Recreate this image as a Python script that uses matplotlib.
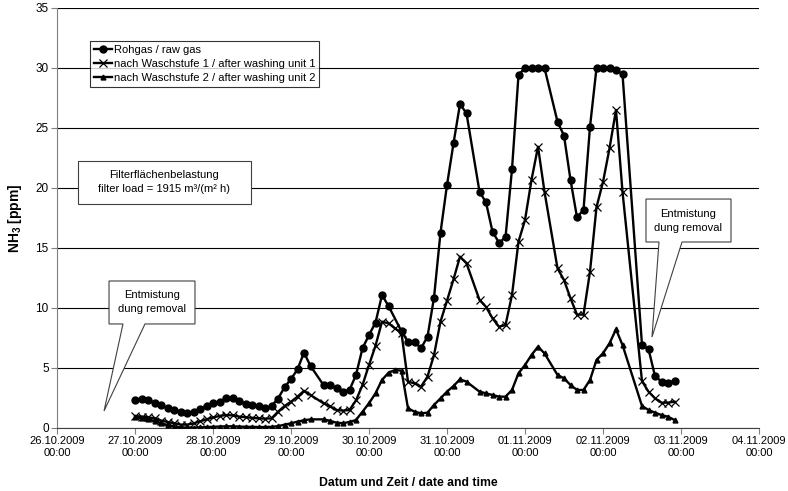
import matplotlib
matplotlib.use('Agg')
import matplotlib.pyplot as plt
import matplotlib.dates as mdates
from matplotlib.patches import Polygon
import pandas as pd
from datetime import datetime, timedelta

plt.rcParams['font.family'] = ['Liberation Sans', 'DejaVu Sans']
plt.rcParams['mathtext.default'] = 'regular'

# ============================================================
# Daten: Messwerte alle 2 h ab 27.10.2009 00:00 (None = kein Wert)
# ============================================================

times = pd.date_range('2009-10-27 00:00', periods=84, freq='2h')

rohgas = [2.33, 2.39, 2.33, 2.12, 1.88, 1.66, 1.5, 1.3, 1.26, 1.36, 1.6, 1.87,
          2.06, 2.2, 2.47, 2.47, 2.28, 2.03, 1.92, 1.83, 1.64, 1.83, 2.45, 3.39,
          4.08, 4.89, 6.28, 5.17, None, 3.58, 3.58, 3.31, 3.03, 3.17, 4.42, 6.64,
          7.75, 8.78, 11.08, 10.17, None, 8.05, 7.19, 7.19, 6.64, 7.61, 10.86, 16.28,
          20.25, 23.72, 27.0, 26.22, None, 19.69, 18.8, 16.36, 15.44, 15.89, 21.56, 29.42,
          30.0, 30.0, 30.0, 30.0, None, 25.53, 24.36, 20.67, 17.56, 18.17, 25.1, 30.0,
          30.0, 30.0, 29.8, 29.5, None, None, 6.92, 6.58, 4.33, 3.86, 3.78, 3.92]

wasch1 = [1.0, 0.95, 0.9, 0.8, 0.62, 0.5, 0.4, 0.28, 0.28, 0.38, 0.55, 0.72,
          0.88, 1.0, 1.08, 1.05, 0.95, 0.9, 0.85, 0.8, 0.78, 0.8, 1.36, 1.83,
          2.19, 2.61, 3.1, 2.75, None, 2.06, 1.8, 1.5, 1.45, 1.5, 2.3, 3.58,
          5.25, 6.85, 8.86, 8.72, 8.3, 7.9, 3.86, 3.72, 3.44, 4.28, 6.08, 8.86,
          10.61, 12.39, 14.28, 13.72, None, 10.67, 10.1, 9.14, 8.44, 8.58, 11.08, 15.53,
          17.33, 20.67, 23.44, 19.69, None, 13.31, 12.33, 10.81, 9.45, 9.45, 13.03, 18.4,
          20.5, 23.3, 26.5, 19.69, None, None, 3.9, 3.03, 2.47, 2.11, 2.11, 2.19]

wasch2 = [0.89, 0.82, 0.72, 0.58, 0.39, 0.25, 0.12, 0.05, 0.03, 0.03, 0.05, 0.08,
          0.1, 0.12, 0.14, 0.14, 0.12, 0.1, 0.1, 0.08, 0.08, 0.1, 0.15, 0.28,
          0.39, 0.53, 0.65, 0.72, None, 0.72, 0.6, 0.44, 0.4, 0.5, 0.67, 1.36,
          2.06, 2.89, 4.0, 4.61, 4.83, 4.78, 1.64, 1.36, 1.22, 1.28, 1.92, 2.47,
          3.03, 3.5, 4.06, 3.86, None, 3.03, 2.89, 2.75, 2.61, 2.61, 3.17, 4.56,
          5.25, 6.08, 6.78, 6.22, None, 4.42, 4.14, 3.58, 3.17, 3.17, 4.0, 5.67,
          6.22, 7.06, 8.22, 6.92, None, None, 1.83, 1.5, 1.28, 1.08, 0.94, 0.67]

labels = ['Rohgas / raw gas',
          'nach Waschstufe 1 / after washing unit 1',
          'nach Waschstufe 2 / after washing unit 2']

# ============================================================
# Plot
# ============================================================

fig = plt.figure(figsize=(7.88, 4.91), dpi=100)
ax = fig.add_axes([57 / 788, 1 - 428 / 491, 702 / 788, 420 / 491])

styles = [
    dict(marker='o', markersize=5, markerfacecolor='black', markeredgecolor='black'),
    dict(marker='x', markersize=6, markeredgewidth=0.9, markeredgecolor='black'),
    dict(marker='^', markersize=3.5, markerfacecolor='black', markeredgecolor='black'),
]

for values, label, st in zip([rohgas, wasch1, wasch2], labels, styles):
    s = pd.Series(values, index=times, dtype=float).dropna()
    ax.plot(s.index, s.values, color='black', linewidth=1.7, label=label,
            zorder=3, **st)

start = datetime(2009, 10, 26)
ax.set_xlim(start, start + timedelta(days=9))
ax.set_ylim(0, 35)
ax.set_yticks(range(0, 36, 5))
ax.xaxis.set_major_locator(mdates.DayLocator())
ax.xaxis.set_major_formatter(mdates.DateFormatter('%d.%m.%Y\n%H:%M'))

ax.yaxis.grid(True, color='black', linewidth=0.8)
ax.set_axisbelow(True)
for side in ['top', 'right']:
    ax.spines[side].set_visible(False)
ax.spines['left'].set_color('#808080')
ax.spines['bottom'].set_color('#404040')
ax.tick_params(axis='both', direction='out', length=4, color='#808080',
               labelsize=8, pad=2)
ax.tick_params(axis='y', labelsize=8.5)

ax.set_ylabel('NH$_3$ [ppm]', fontsize=10, fontweight='bold', labelpad=8)
ax.set_xlabel('Datum und Zeit / date and time', fontsize=8.8,
              fontweight='bold', labelpad=14)

leg = ax.legend(loc='upper left', bbox_to_anchor=(90 / 788, 1 - 41 / 491),
                bbox_transform=fig.transFigure, fontsize=8, frameon=True,
                fancybox=False, edgecolor='black', borderaxespad=0,
                handlelength=1.6, handletextpad=0.2, labelspacing=0.35,
                borderpad=0.35, numpoints=1)
leg.get_frame().set_linewidth(0.8)
leg.set_zorder(6)


# ============================================================
# Textfelder / Sprechblasen
# ============================================================

def dnum(days):
    return mdates.date2num(start + timedelta(days=days))


def callout(text, x0, x1, y0, y1, tip=None, base=None):
    pts = [(dnum(x0), y1), (dnum(x1), y1), (dnum(x1), y0)]
    if tip is not None:
        pts += [(dnum(base[1]), y0), (dnum(tip[0]), tip[1]), (dnum(base[0]), y0)]
    pts += [(dnum(x0), y0)]
    poly = Polygon(pts, closed=True, facecolor='white', edgecolor='#404040',
                   linewidth=0.8, zorder=5)
    ax.add_patch(poly)
    ax.text(dnum((x0 + x1) / 2), (y0 + y1) / 2, text, ha='center', va='center',
            fontsize=8, linespacing=1.5, zorder=6)


callout('Filterflächenbelastung\nfilter load = 1915 m³/(m² h)',
        0.269, 2.487, 18.67, 22.25)
callout('Entmistung\ndung removal', 0.667, 1.769, 8.67, 12.25,
        tip=(0.603, 1.42), base=(0.846, 1.128))
callout('Entmistung\ndung removal', 7.551, 8.641, 15.5, 19.08,
        tip=(7.628, 7.58), base=(7.718, 8.013))

plt.savefig('out.png', dpi=100)
plt.close()
